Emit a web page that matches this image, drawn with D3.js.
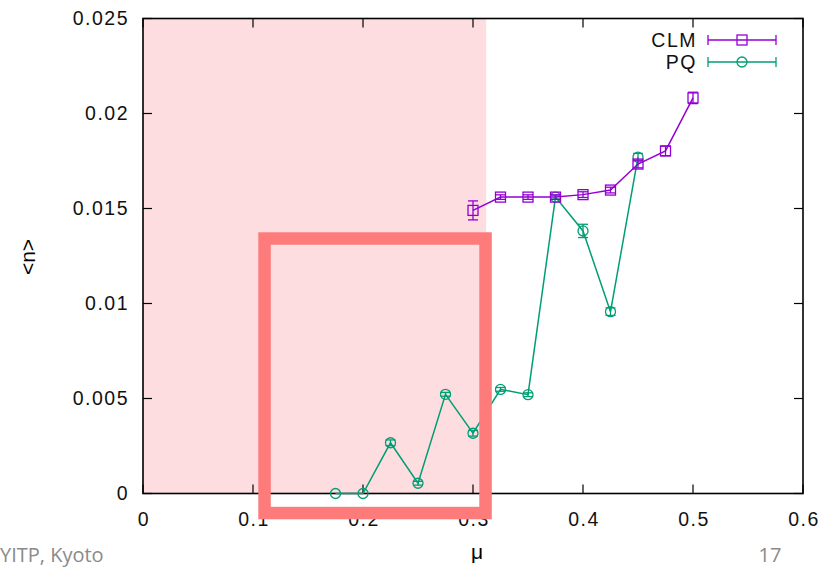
<!DOCTYPE html>
<html>
<head>
<meta charset="utf-8">
<script src="https://cdn.jsdelivr.net/npm/d3@7"></script>
<style>
  html, body { margin: 0; padding: 0; background: #fff; }
  svg { display: block; }
  .tick-label { font-family: "Liberation Sans", Arial, sans-serif; font-size: 19.5px; letter-spacing: 1.5px; fill: #111; }
  .footer { font-family: "Liberation Sans Narrow", "Open Sans", sans-serif; font-size: 20px; fill: #8a8a8a; }
</style>
</head>
<body>
<svg id="chart" width="837" height="568"></svg>
<script>
// ---- data ----
const clmMu  = [0.3, 0.325, 0.35, 0.375, 0.4, 0.425, 0.45, 0.475, 0.5];
const clmN   = [0.0149, 0.0156, 0.0156, 0.0156, 0.01573, 0.01597, 0.01734, 0.01803, 0.02082];
const clmErr = [0.0005, 0.00012, 0.00012, 0.00012, 0.00015, 0.00015, 0.0002, 0.00025, 0.0003];

const pqMu   = [0.175, 0.2, 0.225, 0.25, 0.275, 0.3, 0.325, 0.35, 0.375, 0.4, 0.425, 0.45];
const pqN    = [0, 0, 0.00267, 0.00054, 0.00522, 0.00317, 0.00548, 0.0052, 0.0156, 0.01382, 0.00957, 0.0177];
const pqErr  = [0, 0, 0.00015, 0.0001, 0.0001, 0.00015, 0.0001, 0.0001, 0.0001, 0.00035, 0.0002, 0.0002];

const xTicks = [0, 0.1, 0.2, 0.3, 0.4, 0.5, 0.6];
const yTicks = [0, 0.005, 0.01, 0.015, 0.02, 0.025];
const yTickLabels = ["0", "0.005", "0.01", "0.015", "0.02", "0.025"];
const xTickLabels = ["0", "0.1", "0.2", "0.3", "0.4", "0.5", "0.6"];

const shadedMu = [0, 0.312];                 // shaded μ band
const boxMu = [0.1105, 0.3114];              // highlight box, μ extent
const boxN  = [-0.00103, 0.01342];           // highlight box, <n> extent

const seriesNames = ["CLM", "PQ"];
const seriesColors = ["#9400d3", "#009e73"];

// ---- layout ----
const svg = d3.select("#chart");
const x = d3.scaleLinear().domain([0, 0.6]).range([143, 803]);
const y = d3.scaleLinear().domain([0, 0.025]).range([493.5, 18.5]);

// shaded band
svg.append("rect")
  .attr("x", x(shadedMu[0])).attr("y", y(0.025))
  .attr("width", x(shadedMu[1]) - x(shadedMu[0]))
  .attr("height", y(0) - y(0.025))
  .attr("fill", "#fddde0");

// axes with inward ticks (mirrored on top/right)
const tickLen = 9;
const axG = svg.append("g").attr("stroke", "#000").attr("stroke-width", 1.2);
xTicks.forEach(t => {
  axG.append("line").attr("x1", x(t)).attr("x2", x(t)).attr("y1", y(0)).attr("y2", y(0) - tickLen);
  axG.append("line").attr("x1", x(t)).attr("x2", x(t)).attr("y1", y(0.025)).attr("y2", y(0.025) + tickLen);
});
yTicks.forEach(t => {
  axG.append("line").attr("x1", x(0)).attr("x2", x(0) + tickLen).attr("y1", y(t)).attr("y2", y(t));
  axG.append("line").attr("x1", x(0.6)).attr("x2", x(0.6) - tickLen).attr("y1", y(t)).attr("y2", y(t));
});
svg.append("rect")
  .attr("x", x(0)).attr("y", y(0.025))
  .attr("width", x(0.6) - x(0)).attr("height", y(0) - y(0.025))
  .attr("fill", "none").attr("stroke", "#000").attr("stroke-width", 1.6);

// tick labels
svg.selectAll(".ylab").data(yTicks).enter().append("text")
  .attr("class", "tick-label")
  .attr("x", x(0) - 14).attr("y", d => y(d))
  .attr("dy", "0.35em").attr("text-anchor", "end")
  .text((d, i) => yTickLabels[i]);
svg.selectAll(".xlab").data(xTicks).enter().append("text")
  .attr("class", "tick-label")
  .attr("x", d => x(d) + 1).attr("y", y(0) + 26)
  .attr("dy", "0.35em").attr("text-anchor", "middle")
  .text((d, i) => xTickLabels[i]);

// axis titles
svg.append("text")
  .attr("transform", `translate(${28},${257}) rotate(-90)`)
  .attr("text-anchor", "middle").attr("dy", "0.35em")
  .style("font-family", "Liberation Sans, Arial, sans-serif").style("font-size", "21px")
  .text("<n>");
svg.append("text")
  .attr("x", 477).attr("y", 559).attr("text-anchor", "middle")
  .style("font-family", "Liberation Sans, Arial, sans-serif").style("font-size", "21px")
  .text("μ");

// series
const line = d3.line().x(d => x(d[0])).y(d => y(d[1]));
function drawSeries(mu, n, err, color, shape) {
  const pts = mu.map((m, i) => [m, n[i], err[i]]);
  const g = svg.append("g");
  g.append("path").datum(pts).attr("d", line)
    .attr("fill", "none").attr("stroke", color).attr("stroke-width", 1.5);
  const cap = 5;
  pts.forEach(p => {
    const cx = x(p[0]);
    if (p[2] > 0) {
      const yt = y(p[1] + p[2]), yb = y(p[1] - p[2]);
      g.append("line").attr("x1", cx).attr("x2", cx).attr("y1", yt).attr("y2", yb)
        .attr("stroke", color).attr("stroke-width", 1.3);
      g.append("line").attr("x1", cx - cap).attr("x2", cx + cap).attr("y1", yt).attr("y2", yt)
        .attr("stroke", color).attr("stroke-width", 1.3);
      g.append("line").attr("x1", cx - cap).attr("x2", cx + cap).attr("y1", yb).attr("y2", yb)
        .attr("stroke", color).attr("stroke-width", 1.3);
    }
    drawMarker(g, cx, y(p[1]), color, shape);
  });
}
function drawMarker(g, cx, cy, color, shape) {
  if (shape === "square") {
    g.append("rect").attr("x", cx - 5).attr("y", cy - 5).attr("width", 10).attr("height", 10)
      .attr("fill", "none").attr("stroke", color).attr("stroke-width", 1.3);
  } else {
    g.append("circle").attr("cx", cx).attr("cy", cy).attr("r", 5)
      .attr("fill", "none").attr("stroke", color).attr("stroke-width", 1.3);
  }
}
drawSeries(pqMu, pqN, pqErr, seriesColors[1], "circle");
drawSeries(clmMu, clmN, clmErr, seriesColors[0], "square");

// legend
const legendRows = [40, 62];
seriesNames.forEach((name, i) => {
  const ly = legendRows[i];
  const c = seriesColors[i];
  svg.append("text").attr("class", "tick-label")
    .attr("x", 697).attr("y", ly).attr("dy", "0.35em").attr("text-anchor", "end")
    .text(name);
  svg.append("line").attr("x1", 708).attr("x2", 776).attr("y1", ly).attr("y2", ly)
    .attr("stroke", c).attr("stroke-width", 1.3);
  [708, 776].forEach(ex => svg.append("line").attr("x1", ex).attr("x2", ex)
    .attr("y1", ly - 5).attr("y2", ly + 5).attr("stroke", c).attr("stroke-width", 1.3));
  drawMarker(svg, 742, ly, c, i === 0 ? "square" : "circle");
});

// highlight box
svg.append("rect")
  .attr("x", x(boxMu[0])).attr("y", y(boxN[1]))
  .attr("width", x(boxMu[1]) - x(boxMu[0]))
  .attr("height", y(boxN[0]) - y(boxN[1]))
  .attr("fill", "none").attr("stroke", "#fe7b7b").attr("stroke-width", 12.5);

// footer
svg.append("text").attr("class", "footer").attr("x", 0).attr("y", 562).text("YITP, Kyoto");
svg.append("text").attr("class", "footer").attr("x", 770).attr("y", 562).attr("text-anchor", "middle").text("17");
</script>
</body>
</html>
